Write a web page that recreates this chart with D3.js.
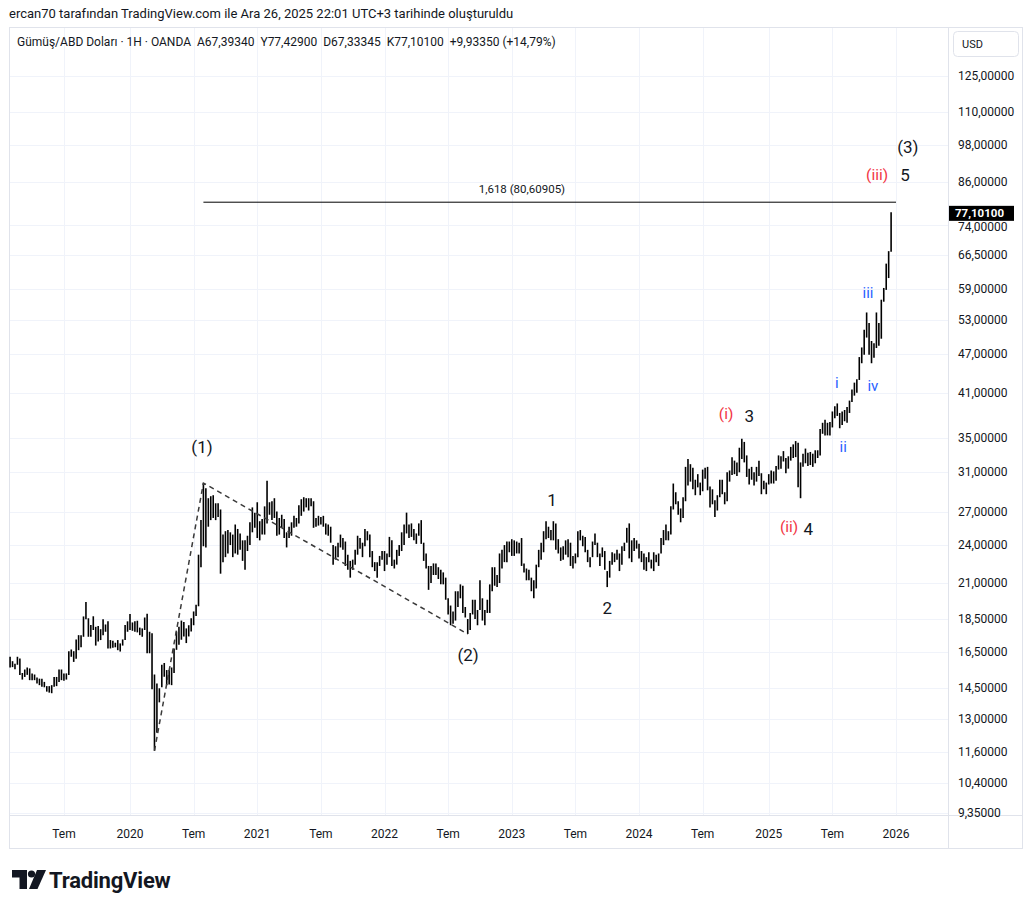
<!DOCTYPE html>
<html><head><meta charset="utf-8">
<script src="https://cdn.jsdelivr.net/npm/d3@7/dist/d3.min.js"></script>
<style>
html,body{margin:0;padding:0;background:#fff;}
svg{display:block;font-family:Roboto,"Liberation Sans",sans-serif;}
</style></head><body>
<svg id="c" width="1033" height="909"></svg>
<script>
// ---------- DATA ----------
const startWeek = "2019-01-28"; // weekly bars, one per week from this Monday
const high2019 = [16.20,15.95,15.80,16.20,16.10,15.30,15.49,15.60,15.55,15.28,15.22,15.06,15.00,15.00,14.83,14.61,14.61,14.66,15.09,15.09,15.49,15.49,15.28,15.28,16.52,16.62,16.52,17.22,17.48,17.48,18.67,19.64,18.55,18.12,18.68,18.00,18.05,17.85,18.49,18.15,18.35,17.18,17.14,17.02,17.18,16.98,17.22,18.12,18.35];
const low2019  = [15.60,15.62,15.50,15.75,15.20,14.95,15.09,15.20,14.92,14.92,14.92,14.75,14.66,14.58,14.55,14.33,14.28,14.25,14.58,14.61,14.83,14.92,14.89,14.95,15.20,16.20,15.91,16.09,16.58,16.75,17.38,18.49,17.38,17.38,17.80,16.85,17.10,17.18,17.48,17.69,16.68,16.68,16.72,16.75,16.58,16.50,16.85,17.18,17.69];
const high2020 = [18.83,18.28,18.35,18.39,17.95,17.90,18.60,18.85,17.69,17.60,15.22,14.75,14.50,15.75,15.85,15.46,15.46,15.60,16.68,17.70,18.00,18.40,18.30,17.90,18.10,18.55,19.00,19.45,23.20,26.20,29.85,29.30,28.30,28.50,28.60,27.80,27.80,27.20,24.90,25.20,25.30,25.10,24.90,25.80,25.40,25.00,24.40,24.40,24.80,26.00,27.40,26.90];
const low2020  = [17.80,17.75,17.69,17.65,17.48,17.38,17.80,16.40,16.40,14.45,11.64,12.40,13.80,14.55,15.10,14.66,14.70,14.66,15.30,16.60,16.90,17.20,17.40,17.00,17.40,17.70,18.10,18.70,19.35,22.20,23.90,23.80,25.60,26.20,26.40,26.20,26.50,21.70,22.60,23.00,23.30,24.00,23.00,23.30,23.20,23.60,22.70,22.00,23.50,24.00,25.10,25.50];
const high2021 = [27.90,26.10,26.30,27.50,30.10,27.90,28.00,28.30,27.00,26.40,26.70,26.30,25.10,25.60,26.00,26.60,26.40,27.60,28.20,28.40,28.30,28.30,28.30,28.00,26.40,26.60,26.50,26.60,25.90,25.80,25.60,24.00,23.90,24.20,24.90,24.60,24.30,23.20,22.70,22.80,23.60,24.80,24.60,24.20,25.40,25.20,24.90,23.50,22.60,22.60,23.10,23.50];
const low2021  = [24.60,24.40,24.90,24.90,25.90,26.70,26.20,26.40,24.80,24.90,25.50,24.60,23.80,24.60,24.80,25.50,25.60,25.90,26.60,27.00,27.40,27.10,27.50,25.50,25.60,25.70,25.80,25.60,24.90,24.80,24.20,22.40,22.80,23.00,23.80,23.60,22.30,22.00,21.40,22.00,22.40,23.20,23.70,23.00,23.90,24.40,23.00,22.20,21.90,21.40,22.30,22.80];
const high2022 = [23.50,23.30,24.70,24.40,22.80,23.60,24.00,25.10,25.80,26.90,25.80,25.90,25.40,25.00,25.90,26.20,24.20,23.30,22.30,22.30,22.50,22.50,22.20,22.00,21.80,21.40,19.90,19.40,19.00,20.40,20.40,20.90,20.80,19.30,18.50,18.90,19.80,19.80,19.10,21.20,19.90,19.10,19.80,20.90,22.20,22.20,21.60,23.30,23.60,24.00,24.30,24.30];
const low2022  = [21.90,22.40,23.00,22.30,22.10,22.40,23.10,23.50,24.00,25.00,24.60,24.70,24.40,24.10,24.80,24.10,22.70,22.10,20.50,21.00,21.60,21.60,21.30,20.90,20.90,19.80,18.80,18.10,18.20,18.40,19.30,19.90,18.90,18.60,17.55,17.80,18.80,18.50,18.10,19.10,18.40,18.10,18.90,18.90,20.40,20.80,20.70,21.00,22.10,22.60,22.60,23.40];
const high2023 = [24.50,24.40,24.30,24.20,24.60,22.50,22.10,22.00,21.40,21.20,22.40,23.60,24.20,25.20,26.10,25.60,25.30,26.10,25.90,24.50,23.80,23.90,24.40,24.50,24.20,23.10,23.30,25.20,25.30,24.80,24.70,23.60,23.00,24.30,25.00,24.20,23.30,23.80,23.50,21.90,22.70,23.40,23.30,23.60,23.30,23.90,24.20,25.50,25.90,24.40,24.60,24.40];
const low2023  = [23.10,23.10,23.30,23.30,22.30,21.80,21.20,21.20,20.40,19.90,20.60,22.20,22.80,23.40,24.50,24.60,24.40,24.40,23.60,23.30,22.70,22.80,23.20,23.00,22.30,22.10,22.50,23.00,24.40,23.90,23.40,22.60,22.20,23.00,24.00,23.00,22.30,23.00,22.00,20.70,21.40,22.40,22.60,22.80,21.90,22.40,23.50,24.20,22.90,22.60,23.50,23.70];
const high2024 = [24.10,23.50,23.30,23.00,23.40,22.80,23.40,23.20,23.30,24.60,25.30,25.80,25.20,27.50,29.80,28.90,28.00,27.30,28.40,31.60,32.50,31.90,31.50,30.20,30.80,29.90,31.30,31.50,31.60,29.50,29.20,28.10,28.60,30.20,30.20,28.90,31.00,31.20,32.70,32.30,32.10,33.80,34.90,34.50,32.90,31.40,31.60,31.00,31.60,32.30,30.90,30.10,29.90];
const low2024  = [22.90,22.60,22.00,21.90,22.60,22.10,21.90,22.60,22.30,23.30,24.00,24.40,24.40,24.90,27.20,27.70,26.70,26.00,26.40,28.00,29.60,30.00,29.20,28.60,29.40,28.60,29.00,30.30,29.10,27.40,27.70,26.50,27.10,28.40,28.70,27.70,28.00,30.00,30.70,30.80,30.60,31.00,32.50,32.10,30.50,29.70,30.20,29.60,30.00,30.60,28.70,29.20,28.70];
const high2025 = [30.80,31.20,31.10,31.70,32.90,32.80,33.40,32.60,32.80,33.90,34.20,34.60,34.40,32.10,33.10,33.70,33.20,33.30,33.10,33.50,33.50,36.10,36.90,37.30,36.90,37.00,38.40,39.10,39.50,38.20,38.40,38.60,39.00,39.90,41.50,42.50,43.00,46.50,48.10,51.20,54.40,52.40,49.20,48.80,54.40,52.40,56.90,59.30,64.60,67.50,77.429];
const low2025  = [29.70,29.80,29.80,30.10,31.30,31.40,32.20,30.90,31.40,32.30,32.60,32.70,29.40,28.30,31.60,32.00,31.70,31.80,31.60,32.00,32.60,32.90,35.50,35.30,35.30,35.30,36.30,37.50,37.80,36.20,36.60,37.10,36.90,38.20,39.70,40.60,41.00,42.90,45.50,46.90,49.80,46.90,45.50,46.40,48.00,48.40,49.60,56.50,58.90,61.40,67.333];

const priceTicks = [125,110,98,86,74,66.5,59,53,47,41,35,31,27,24,21,18.5,16.5,14.5,13,11.6,10.4,9.35];
const timeTickDates  = ["2019-07-01","2020-01-06","2020-07-06","2021-01-04","2021-07-05","2022-01-03","2022-07-04","2023-01-02","2023-07-03","2024-01-01","2024-07-01","2025-01-06","2025-07-07","2026-01-05"];
const timeTickLabels = ["Tem","2020","Tem","2021","Tem","2022","Tem","2023","Tem","2024","Tem","2025","Tem","2026"];

const lastClose = 77.101;
const fibLevel = 80.60905;
const fibStart = "2020-08-03", fibEnd = "2026-01-05", fibLabelDate = "2023-01-31";
const fibLabel = "1,618 (80,60905)";

const waveDates  = ["2020-03-16","2020-08-03","2022-08-29"];
const waveValues = [11.64, 29.85, 17.55];

const labelTexts  = ["(1)","(2)","1","2","(i)","3","(ii)","4","(iii)","5","(3)","i","ii","iii","iv"];
const labelDates  = ["2020-07-30","2022-08-30","2023-04-27","2023-10-02","2024-09-06","2024-11-11","2025-03-05","2025-04-29","2025-11-12","2026-01-31","2026-02-08","2025-07-20","2025-08-07","2025-10-17","2025-10-31"];
const labelValues = [33.9,16.30,28.13,19.24,38.06,37.79,25.58,25.40,88.24,88.24,97.4,42.45,33.9,58.26,42.0];
const labelKinds  = ["k","k","k","k","r","k","r","k","r","k","k","b","b","b","b"];

const titleText = "ercan70 tarafından TradingView.com ile Ara 26, 2025 22:01 UTC+3 tarihinde oluşturuldu";
const legendParts = ["Gümüş/ABD Doları · 1H · OANDA","A67,39340","Y77,42900","D67,33345","K77,10100","+9,93350 (+14,79%)"];

// ---------- DRAW ----------
const svg = d3.select("#c");
const W = 1033, H = 909;
const pane = {left:10, right:948, top:28, bottom:815};
const ink = "#131722";

const x = d3.scaleUtc().domain([new Date("2020-01-06"), new Date("2026-01-05")]).range([130, 896]);
const y = d3.scaleLog().domain([148.0, 9.284]).range([pane.top, pane.bottom]);

const highs = [].concat(high2019,high2020,high2021,high2022,high2023,high2024,high2025);
const lows  = [].concat(low2019,low2020,low2021,low2022,low2023,low2024,low2025);
const t0 = Date.parse(startWeek + "T00:00:00Z");
const bars = highs.map((h,i)=>({date:new Date(t0 + i*7*864e5), high:h, low:lows[i]}));

svg.append("rect").attr("width",W).attr("height",H).attr("fill","#fff");

// grid
const grid = svg.append("g").attr("stroke","#f0f3fa").attr("stroke-width",1);
grid.selectAll("line.v").data(timeTickDates).join("line")
  .attr("x1",d=>Math.round(x(new Date(d)))+0.5).attr("x2",d=>Math.round(x(new Date(d)))+0.5)
  .attr("y1",pane.top).attr("y2",pane.bottom);
grid.selectAll("line.h").data(priceTicks).join("line")
  .attr("x1",pane.left).attr("x2",pane.right)
  .attr("y1",d=>Math.round(y(d))+0.5).attr("y2",d=>Math.round(y(d))+0.5);

// frame
svg.append("rect").attr("x",9.5).attr("y",27.5).attr("width",1013).attr("height",821)
  .attr("fill","none").attr("stroke","#e0e3eb");
svg.append("line").attr("x1",pane.right+0.5).attr("x2",pane.right+0.5).attr("y1",27.5).attr("y2",848.5).attr("stroke","#e0e3eb");
svg.append("line").attr("x1",9.5).attr("x2",1022.5).attr("y1",pane.bottom+0.5).attr("y2",pane.bottom+0.5).attr("stroke","#e0e3eb");

// bars
svg.append("g").selectAll("line").data(bars).join("line")
  .attr("x1",d=>x(d.date)).attr("x2",d=>x(d.date))
  .attr("y1",d=>y(d.high)).attr("y2",d=>y(d.low))
  .attr("stroke","#000").attr("stroke-width",1.6);

// dashed wave lines
const wavePts = waveDates.map((d,i)=>[x(new Date(d)), y(waveValues[i])]);
svg.append("path").attr("d",d3.line()(wavePts)).attr("fill","none")
  .attr("stroke","#3a3a3a").attr("stroke-width",1.5).attr("stroke-dasharray","5,4");

// fib line
svg.append("line").attr("x1",x(new Date(fibStart))).attr("x2",x(new Date(fibEnd)))
  .attr("y1",y(fibLevel)+1.5).attr("y2",y(fibLevel)+1.5).attr("stroke","#000").attr("stroke-width",1);
svg.append("text").attr("x",x(new Date(fibLabelDate))).attr("y",y(fibLevel)-12)
  .attr("text-anchor","middle").attr("dominant-baseline","central")
  .attr("font-size",11.5).attr("fill",ink).text(fibLabel);

// wave labels
const kindColor = {k:"#131722", r:"#f23645", b:"#2962ff"};
const kindSize = {k:17, r:15.5, b:15};
svg.append("g").selectAll("text").data(labelTexts).join("text")
  .attr("x",(d,i)=>x(new Date(labelDates[i]))).attr("y",(d,i)=>y(labelValues[i]))
  .attr("text-anchor","middle").attr("dominant-baseline","central")
  .attr("font-size",(d,i)=>kindSize[labelKinds[i]])
  .attr("fill",(d,i)=>kindColor[labelKinds[i]]).text(d=>d);

// price axis labels
const fmt = v => d3.format(".5f")(v).replace(".",",");
svg.append("g").selectAll("text").data(priceTicks).join("text")
  .attr("x",958).attr("y",d=>y(d)+ (d===74 ? 1.5 : 0)).attr("dominant-baseline","central")
  .attr("font-size",12).attr("fill",ink).text(fmt);

// last price label
const yl = y(lastClose);
svg.append("rect").attr("x",949).attr("y",yl-7.5).attr("width",65).attr("height",15).attr("fill","#000");
svg.append("text").attr("x",955).attr("y",yl).attr("dominant-baseline","central")
  .attr("font-size",11.5).attr("font-weight","bold").attr("fill","#fff").text(fmt(lastClose));

// USD box
svg.append("rect").attr("x",953.5).attr("y",31.5).attr("width",65).attr("height",25).attr("rx",4)
  .attr("fill","#fff").attr("stroke","#e0e3eb");
svg.append("text").attr("x",962).attr("y",44.5).attr("dominant-baseline","central")
  .attr("font-size",11).attr("fill",ink).text("USD");

// time axis labels
svg.append("g").selectAll("text").data(timeTickDates).join("text")
  .attr("x",d=>x(new Date(d))).attr("y",834).attr("text-anchor","middle").attr("dominant-baseline","central")
  .attr("font-size",12).attr("fill",ink).text((d,i)=>timeTickLabels[i]);

// title + legend
svg.append("text").attr("x",9).attr("y",13).attr("dominant-baseline","central")
  .attr("font-size",13).attr("fill",ink).text(titleText);
const lg = svg.append("text").attr("x",17).attr("y",42).attr("dominant-baseline","central")
  .attr("font-size",12).attr("fill",ink);
legendParts.forEach((p,i)=>lg.append("tspan").attr("dx", i===0?0:6).text(p));

// TradingView logo
const logo = svg.append("g").attr("fill","#131722");
logo.append("path").attr("d","M12,870 h15 v19 h-7.5 v-11.5 h-7.5 z");
logo.append("circle").attr("cx",31.5).attr("cy",874).attr("r",3.6);
logo.append("path").attr("d","M37,870 h9 l-8.5,19 h-8.5 z");
svg.append("text").attr("x",49).attr("y",880).attr("dominant-baseline","central")
  .attr("font-size",22).attr("font-weight","bold").attr("letter-spacing","-0.2").attr("fill","#131722").text("TradingView");
</script></body></html>
